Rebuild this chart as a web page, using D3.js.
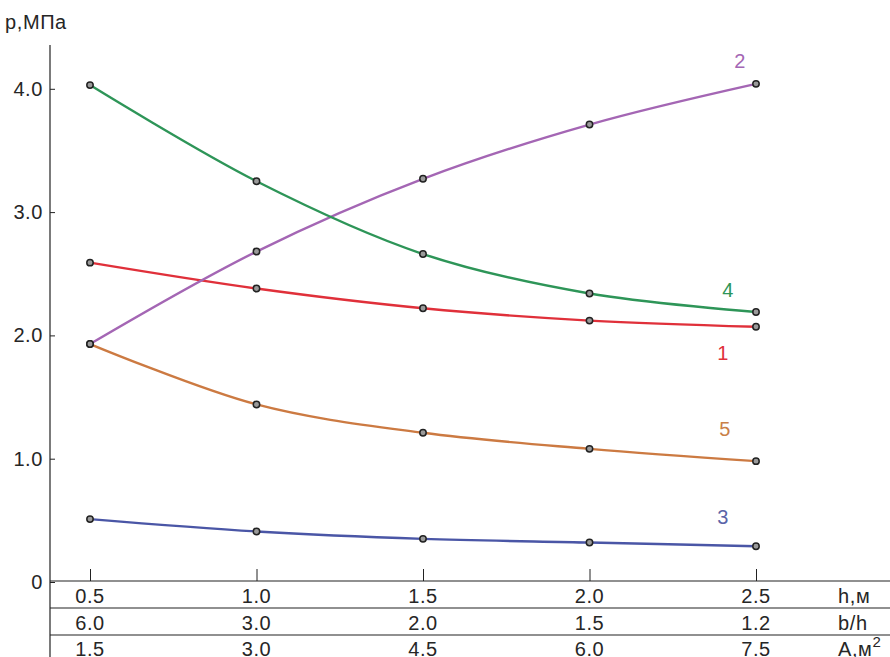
<!DOCTYPE html>
<html>
<head>
<meta charset="utf-8">
<script src="https://cdn.jsdelivr.net/npm/d3@7"></script>
<style>
  body { margin: 0; background: #fff; }
  svg { font-family: Arial, "Liberation Sans", sans-serif; }
  svg text { letter-spacing: 0.6px; }
</style>
</head>
<body>
<div id="chart"></div>
<script>
const hValues = [0.5, 1.0, 1.5, 2.0, 2.5];
const bhValues = ["6.0", "3.0", "2.0", "1.5", "1.2"];
const areaValues = ["1.5", "3.0", "4.5", "6.0", "7.5"];
const yTicks = [0, 1, 2, 3, 4];

const series1 = [2.59, 2.38, 2.22, 2.12, 2.07];
const series2 = [1.93, 2.68, 3.27, 3.71, 4.04];
const series3 = [0.51, 0.41, 0.35, 0.32, 0.29];
const series4 = [4.03, 3.25, 2.66, 2.34, 2.19];
const series5 = [1.93, 1.44, 1.21, 1.08, 0.98];

const seriesList = [
    { name: '1', values: series1, color: '#e0303a', labelColor: '#e0303a', lx: 723, ly: 353 },
    { name: '2', values: series2, color: '#a466b4', labelColor: '#a466b4', lx: 740, ly: 61 },
    { name: '3', values: series3, color: '#4a56a6', labelColor: '#5a64a8', lx: 723, ly: 517 },
    { name: '4', values: series4, color: '#2e9558', labelColor: '#2e9558', lx: 728, ly: 290 },
    { name: '5', values: series5, color: '#cc7a42', labelColor: '#c98048', lx: 725, ly: 429 }
];

const width = 890, height = 657;
const axisX = 50;
const y0 = 582;
const fontSize = 20;
const textColor = '#262626';

const svg = d3.select('#chart').append('svg')
    .attr('width', width)
    .attr('height', height);

const x = d3.scaleLinear().domain([0.5, 2.5]).range([90, 756]);
const y = d3.scaleLinear().domain([0, 4]).range([y0, y0 - 4 * 123.3]);

// y axis: ticks point inward, labels on the left
const yAxis = svg.append('g')
    .attr('transform', `translate(${axisX},0)`)
    .call(d3.axisLeft(y).tickValues(yTicks).tickSize(-5).tickPadding(7)
        .tickFormat(d => d === 0 ? '0' : d3.format('.1f')(d)));
yAxis.select('.domain').remove();
yAxis.selectAll('text').attr('font-size', fontSize).attr('fill', textColor).attr('font-family', 'Arial, "Liberation Sans", sans-serif');
yAxis.selectAll('line').attr('stroke', '#222');

svg.append('line')
    .attr('x1', axisX).attr('x2', axisX)
    .attr('y1', 45).attr('y2', height)
    .attr('stroke', '#222').attr('stroke-width', 1.2);

svg.append('text')
    .attr('x', 5).attr('y', 29)
    .attr('font-size', fontSize).attr('fill', textColor)
    .text('p,МПа');

// x axis ticks above the table
const xAxis = svg.append('g')
    .attr('transform', `translate(0,581)`)
    .call(d3.axisTop(x).tickValues(hValues).tickSize(12).tickFormat(''));
xAxis.select('.domain').remove();
xAxis.selectAll('line').attr('stroke', '#222');

// table rows
const rowLines = [581, 608, 635];
svg.selectAll('.row-line')
    .data(rowLines)
    .join('line')
    .attr('class', 'row-line')
    .attr('x1', axisX).attr('x2', width)
    .attr('y1', d => d).attr('y2', d => d)
    .attr('stroke', '#222').attr('stroke-width', 1.2);

const rows = [
    { values: hValues.map(d3.format('.1f')), baseline: 603 },
    { values: bhValues, baseline: 630 },
    { values: areaValues, baseline: 656 }
];
rows.forEach(row => {
    svg.append('g').selectAll('text')
        .data(row.values)
        .join('text')
        .attr('x', (d, i) => x(hValues[i]))
        .attr('y', row.baseline)
        .attr('text-anchor', 'middle')
        .attr('font-size', fontSize).attr('fill', textColor)
        .text(d => d);
});

svg.append('text').attr('x', 838).attr('y', 603).attr('font-size', fontSize).attr('fill', textColor).text('h,м');
svg.append('text').attr('x', 838).attr('y', 630).attr('font-size', fontSize).attr('fill', textColor).text('b/h');
const aLabel = svg.append('text').attr('x', 838).attr('y', 656).attr('font-size', fontSize).attr('fill', textColor);
aLabel.append('tspan').text('A,м');
aLabel.append('tspan').attr('dy', -9).attr('font-size', 15).text('2');

// curves
const line = d3.line()
    .x((d, i) => x(hValues[i]))
    .y(d => y(d))
    .curve(d3.curveCatmullRom.alpha(0.5));

const seriesG = svg.append('g');
seriesList.forEach(s => {
    seriesG.append('path')
        .datum(s.values)
        .attr('d', line)
        .attr('fill', 'none')
        .attr('stroke', s.color)
        .attr('stroke-width', 2.4);
});
seriesList.forEach(s => {
    seriesG.append('g').selectAll('circle')
        .data(s.values)
        .join('circle')
        .attr('cx', (d, i) => x(hValues[i]))
        .attr('cy', d => y(d))
        .attr('r', 3.2)
        .attr('fill', '#9a9a9a')
        .attr('stroke', '#222')
        .attr('stroke-width', 1.5);
    svg.append('text')
        .attr('x', s.lx).attr('y', s.ly)
        .attr('dy', '0.35em')
        .attr('text-anchor', 'middle')
        .attr('font-size', fontSize)
        .attr('fill', s.labelColor)
        .text(s.name);
});
</script>
</body>
</html>
